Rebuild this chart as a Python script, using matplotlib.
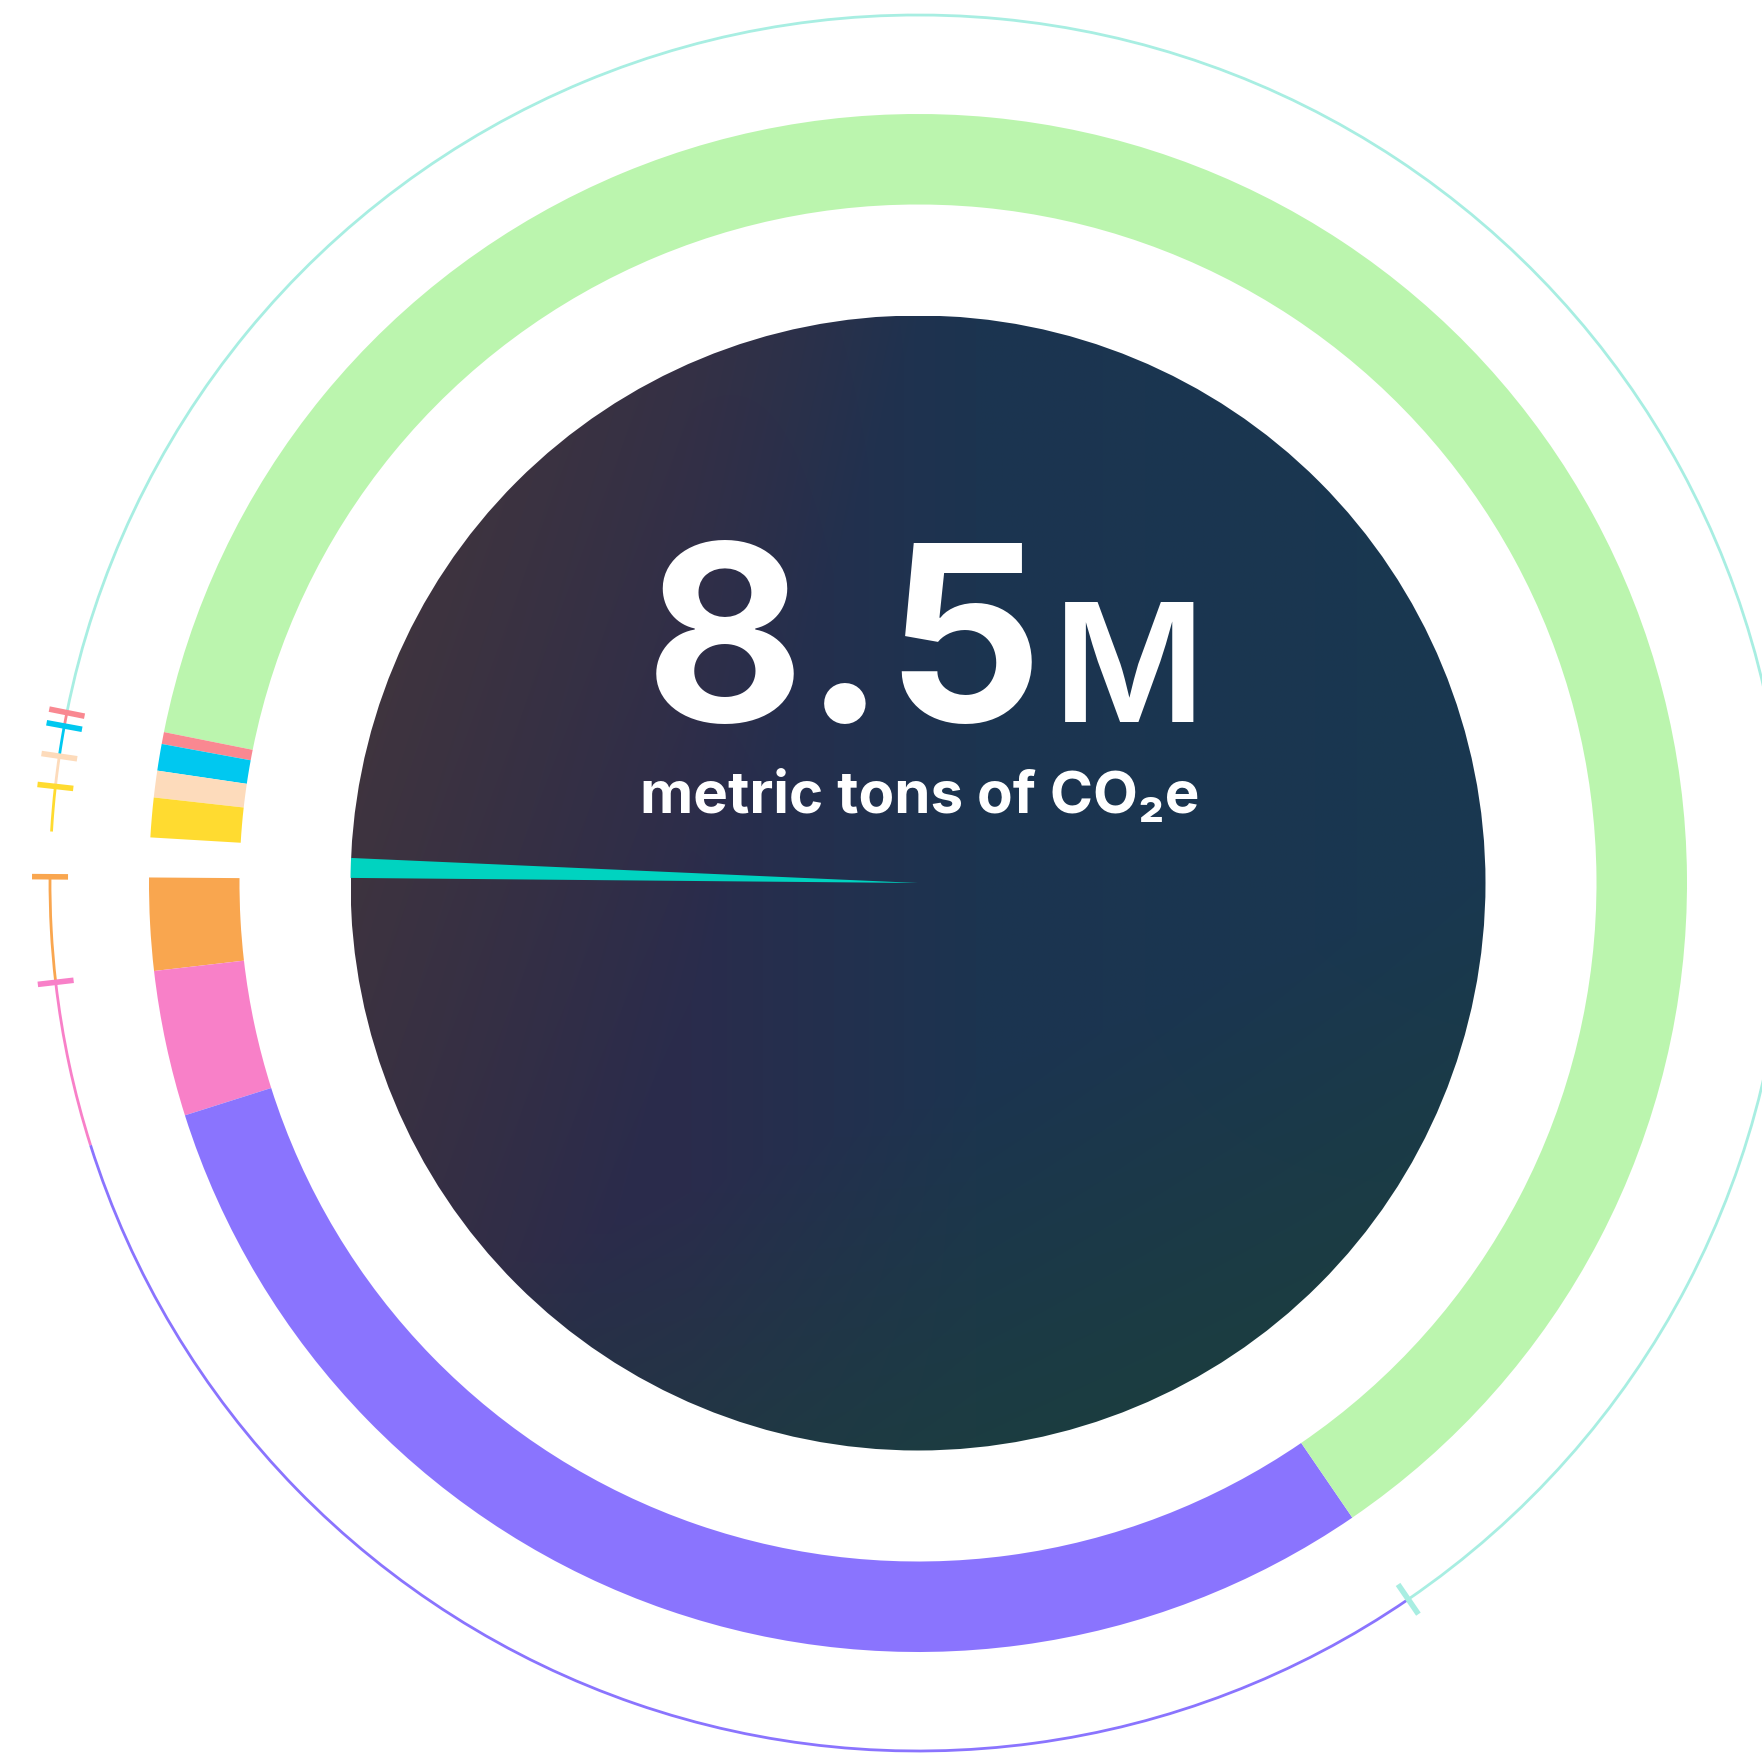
import matplotlib.pyplot as plt
import numpy as np
from matplotlib.patches import Arc, Circle, Wedge

# ring segments, counter-clockwise from 9 o'clock, share of 8.5M t CO2e (%)
ring_names = ['teal', 'orange', 'pink', 'purple', 'green', 'salmon', 'cyan', 'peach', 'yellow']
ring_shares = [0.83, 1.94, 3.06, 29.67, 62.31, 0.25, 0.56, 0.56, 0.83]
ring_colors = ['none', '#f9a64f', '#f880c8', '#8a74fe', '#bbf5ae', '#f98891', '#00c8f0', '#fddbbb', '#ffdb30']
outer_colors = ['none', '#f9a64f', '#f880c8', '#8a74fe', '#a8eee2', '#f98891', '#00c8f0', '#fddbbb', '#ffdb30']
has_tick = [False, True, True, False, True, True, True, True, True]

teal_share = 0.56
teal_color = '#00d3c0'

total_label = '8.5'
total_unit = 'M'
subtitle = 'metric tons of CO\u2082e'

W, H = 1762, 1753
cx, cy = 918, 870
start = 176.6

fig = plt.figure(figsize=(W / 100, H / 100), dpi=100)
ax = fig.add_axes([0, 0, 1, 1])

# dark centre disc with gradient
R_in = 567.5
n = 500
g = np.linspace(-1, 1, n)
X, Y = np.meshgrid(g, g)
base = np.array([(46, 42, 72), (42, 44, 76), (28, 52, 80), (25, 56, 80)]) / 255
img = np.stack([np.interp(X, [-1, -0.4, 0.1, 1], base[:, k]) for k in range(3)], axis=-1)
wb = np.clip((-X * 0.9 + Y * 0.3 - 0.3) / 0.7, 0, 1)[..., None]
img = img * (1 - wb) + np.array([64, 53, 62]) / 255 * wb
wg = (np.clip((-Y * 0.9 + X * 0.35 - 0.35) / 0.6, 0, 1) * 0.85)[..., None]
img = img * (1 - wg) + np.array([28, 62, 62]) / 255 * wg
im = ax.imshow(img, extent=(cx - R_in, cx + R_in, cy - R_in, cy + R_in), origin='lower',
               interpolation='bilinear', zorder=1)
disc = Circle((cx, cy), R_in, transform=ax.transData)
im.set_clip_path(disc)

# teal wedge inside the disc
t1 = start + 0.87
ax.add_patch(Wedge((cx, cy), R_in, t1, t1 + teal_share / 100 * 360,
                   facecolor=teal_color, edgecolor='none', zorder=2))

# main ring
ax.pie(ring_shares, colors=ring_colors, startangle=start, counterclock=True,
       radius=769, center=(cx, cy), wedgeprops=dict(width=90.5, linewidth=0))

# outer thin arc with ticks
R_out = 868
bounds = start + np.concatenate([[0], np.cumsum(ring_shares)]) / np.sum(ring_shares) * 360
for i, c in enumerate(outer_colors):
    if c == 'none':
        continue
    ax.add_patch(Arc((cx, cy), 2 * R_out, 2 * R_out, theta1=bounds[i], theta2=bounds[i + 1],
                     color=c, lw=2.0, zorder=3))
    if has_tick[i]:
        a = np.deg2rad(bounds[i])
        r = np.array([R_out - 18, R_out + 18])
        ax.plot(cx + r * np.cos(a), cy + r * np.sin(a), color=c, lw=4.0,
                solid_capstyle='butt', zorder=4)

# centre text
fam = ['Inter', 'Noto Sans', 'DejaVu Sans']
ax.text(645, 1031, total_label, color='white', fontsize=177, fontweight='bold',
        family=fam, ha='left', va='baseline', zorder=5)
ax.text(1053, 1031, total_unit, color='white', fontsize=119, fontweight='semibold',
        family=fam, ha='left', va='baseline', zorder=5)
ax.text(920, 940, subtitle, color='white', fontsize=42, fontweight='bold',
        family=fam, ha='center', va='baseline', zorder=5)

ax.set_xlim(0, W)
ax.set_ylim(0, H)
ax.set_aspect('equal')
ax.axis('off')

fig.savefig('out.png', dpi=100, facecolor='white')
